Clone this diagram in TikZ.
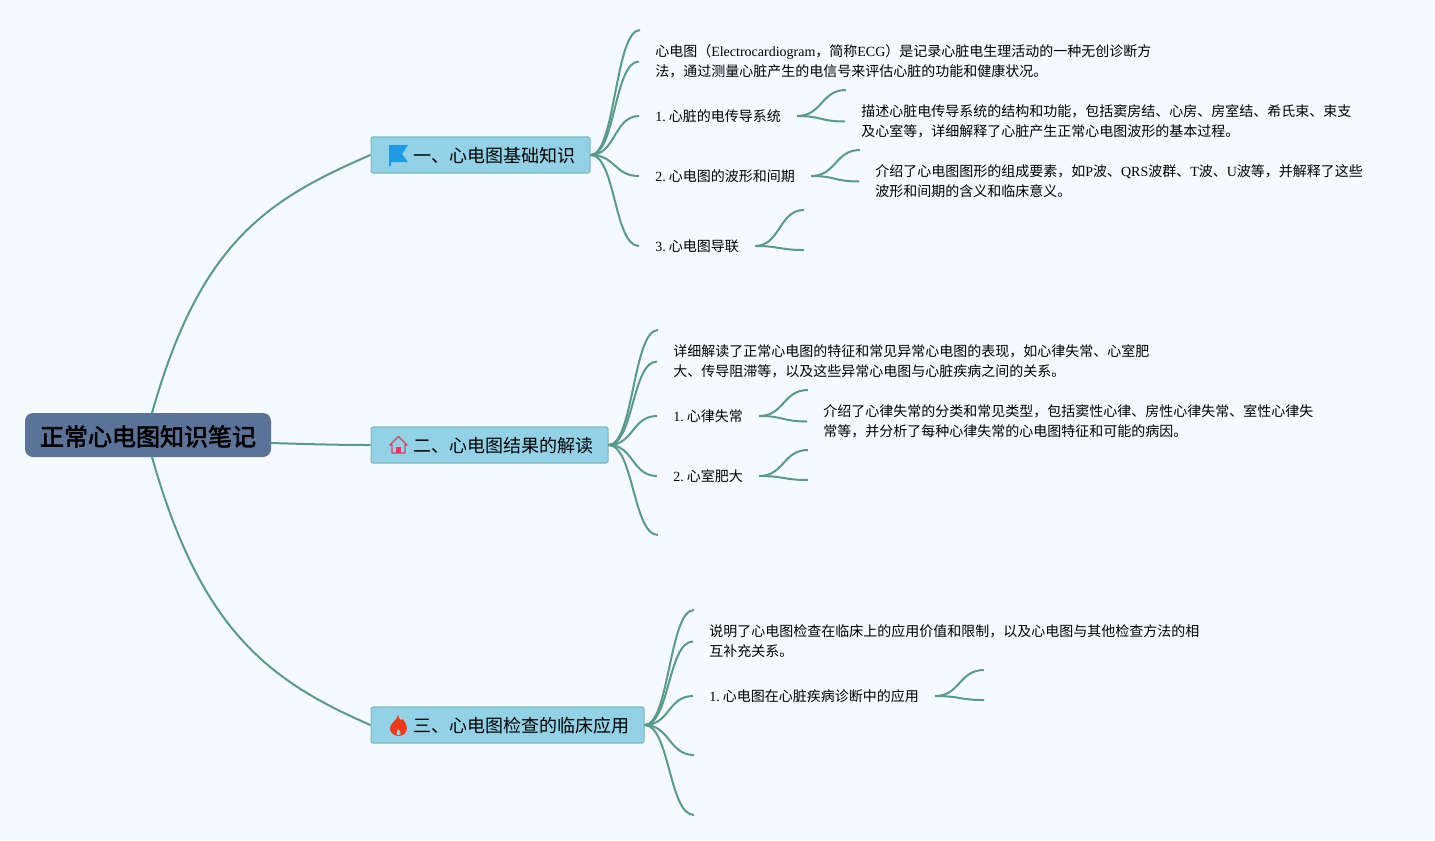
\documentclass[tikz,border=0pt]{standalone}
\usepackage{fontspec}
\setmainfont{Noto Sans CJK SC}
\newfontfamily\lat{Liberation Serif}
\newfontfamily\rootfont[FakeBold=2.5]{Noto Sans CJK SC}
\definecolor{paper}{HTML}{F5FAFF}
\definecolor{limbcol}{HTML}{5A9A8A}
\definecolor{rootcol}{HTML}{5B7299}
\definecolor{boxcol}{HTML}{93D2E6}
\definecolor{boxline}{HTML}{7FB8BC}
\definecolor{flagcol}{HTML}{1E9BE5}
\definecolor{housecol}{HTML}{D9405F}
\definecolor{flamecol}{HTML}{F03A17}
\newcommand{\numlab}[1]{{\lat #1. }\kern-1.2pt}
\tikzset{
  rootbox/.style={fill=rootcol, rounded corners=6pt, minimum width=184.5pt, minimum height=33pt, inner sep=0pt, text height=18pt, text depth=2pt, font=\fontsize{18}{22}\rootfont\selectfont},
  secbox/.style={draw=boxline, fill=boxcol, rounded corners=1.5pt, line width=0.8pt, anchor=west, minimum height=27pt, inner xsep=11.25pt, inner ysep=0pt, text height=13pt, text depth=1.5pt, font=\fontsize{13.5}{16}\selectfont},
  leaf/.style={anchor=west, xshift=-0.75pt, inner xsep=12pt, inner ysep=0pt, align=left, font=\fontsize{10.5}{15}\selectfont},
  limb/.style={draw=limbcol, line width=1.5pt, to path={.. controls +(25,0) and +(-25,0) .. (\tikztotarget)}},
  trunk/.style={draw=limbcol, line width=1.5pt}
}
\begin{document}
\begin{tikzpicture}[x=0.75pt, y=-0.75pt]
    \useasboundingbox[fill=paper] (0,0) rectangle (1435,840);

    % Root and sections
    \node[rootbox] (root) at (148,435) {正常心电图知识笔记};
    \node[secbox] (basic) at (370.5,155) {\hspace*{20.25pt}一、心电图基础知识};
    \node[secbox] (read) at (370.5,445) {\hspace*{20.25pt}二、心电图结果的解读};
    \node[secbox] (use) at (370.5,725) {\hspace*{20.25pt}三、心电图检查的临床应用};
    \coordinate (rootup) at (152,413);
    \coordinate (rootmid) at (271,443);
    \coordinate (rootdown) at (152,457);

    % Section one
    \coordinate (basic0) at (640,30);
    \node[leaf] (intro) at (640,61.5) {心电图（{\lat Electrocardiogram}，简称{\lat ECG}）是记录心脏电生理活动的一种无创诊断方\\法，通过测量心脏产生的电信号来评估心脏的功能和健康状况。};
    \node[leaf] (conduct) at (640,116) {\numlab{1}心脏的电传导系统};
    \node[leaf] (wave) at (640,176) {\numlab{2}心电图的波形和间期};
    \node[leaf] (lead) at (640,246) {\numlab{3}心电图导联};
    \coordinate (conduct0) at (846,90);
    \node[leaf] (conducttxt) at (846,121.5) {描述心脏电传导系统的结构和功能，包括窦房结、心房、房室结、希氏束、束支\\及心室等，详细解释了心脏产生正常心电图波形的基本过程。};
    \coordinate (wave0) at (860,150);
    \node[leaf] (wavetxt) at (860,181.5) {介绍了心电图图形的组成要素，如{\lat P}波、{\lat QRS}波群、{\lat T}波、{\lat U}波等，并解释了这些\\波形和间期的含义和临床意义。};
    \coordinate (lead0) at (804,210);
    \coordinate (lead1) at (804,250);

    % Section two
    \coordinate (read0) at (658,330);
    \node[leaf] (readtxt) at (658,361.5) {详细解读了正常心电图的特征和常见异常心电图的表现，如心律失常、心室肥\\大、传导阻滞等，以及这些异常心电图与心脏疾病之间的关系。};
    \node[leaf] (arrhy) at (658,416) {\numlab{1}心律失常};
    \node[leaf] (hyper) at (658,476) {\numlab{2}心室肥大};
    \coordinate (read4) at (658,535);
    \coordinate (arrhy0) at (808,390);
    \node[leaf] (arrhytxt) at (808,421.5) {介绍了心律失常的分类和常见类型，包括窦性心律、房性心律失常、室性心律失\\常等，并分析了每种心律失常的心电图特征和可能的病因。};
    \coordinate (hyper0) at (808,450);
    \coordinate (hyper1) at (808,480);

    % Section three
    \coordinate (use0) at (694,610);
    \node[leaf] (usetxt) at (694,641.5) {说明了心电图检查在临床上的应用价值和限制，以及心电图与其他检查方法的相\\互补充关系。};
    \node[leaf] (heart) at (694,696) {\numlab{1}心电图在心脏疾病诊断中的应用};
    \coordinate (use3) at (694,755);
    \coordinate (use4) at (694,815);
    \coordinate (heart0) at (984,670);
    \coordinate (heart1) at (984,700);

    % Trunks
    \draw[trunk] (rootup) .. controls (200,243) and (266,200) .. (basic.west);
    \draw[trunk] (rootmid) .. controls (305,444) and (335,445) .. (read.west);
    \draw[trunk] (rootdown) .. controls (200,627) and (266,680) .. (use.west);

    % Limbs
    \draw[limb] (basic.east) to (basic0);
    \draw[limb] (basic.east) to (intro.west);
    \draw[limb] (basic.east) to (conduct.west);
    \draw[limb] (basic.east) to (wave.west);
    \draw[limb] (basic.east) to (lead.west);
    \draw[limb] (conduct.east) to (conduct0);
    \draw[limb] (conduct.east) to (conducttxt.west);
    \draw[limb] (wave.east) to (wave0);
    \draw[limb] (wave.east) to (wavetxt.west);
    \draw[limb] (lead.east) to (lead0);
    \draw[limb] (lead.east) to (lead1);
    \draw[limb] (read.east) to (read0);
    \draw[limb] (read.east) to (readtxt.west);
    \draw[limb] (read.east) to (arrhy.west);
    \draw[limb] (read.east) to (hyper.west);
    \draw[limb] (read.east) to (read4);
    \draw[limb] (arrhy.east) to (arrhy0);
    \draw[limb] (arrhy.east) to (arrhytxt.west);
    \draw[limb] (hyper.east) to (hyper0);
    \draw[limb] (hyper.east) to (hyper1);
    \draw[limb] (use.east) to (use0);
    \draw[limb] (use.east) to (usetxt.west);
    \draw[limb] (use.east) to (heart.west);
    \draw[limb] (use.east) to (use3);
    \draw[limb] (use.east) to (use4);
    \draw[limb] (heart.east) to (heart0);
    \draw[limb] (heart.east) to (heart1);

    % Icons
    \fill[flagcol] (389,145) -- (408,145) -- (402,154) -- (408,162) -- (391,162) -- (391,166) -- (389,166) -- cycle;
    \draw[housecol, line width=1pt, line join=round] (390,445) -- (398.5,436.5) -- (407,445) -- (405,445) -- (405,453) -- (392,453) -- (392,445) -- cycle;
    \fill[housecol] (396,453) rectangle (401,447);
    \fill[flamecol] (398,715) .. controls (399,720) and (402,721) .. (403,719) .. controls (405,722) and (407,725) .. (407,728) .. controls (407,733) and (403,736) .. (398.5,736) .. controls (393,736) and (390,732) .. (390,728) .. controls (390,723) and (397,721) .. (398,715) -- cycle;
    \fill[boxcol] (398.5,729) .. controls (399.5,731) and (401,732) .. (400.5,734) .. controls (400,736) and (397,736) .. (396.5,734) .. controls (396,732) and (398,731) .. (398.5,729) -- cycle;
\end{tikzpicture}
\end{document}
